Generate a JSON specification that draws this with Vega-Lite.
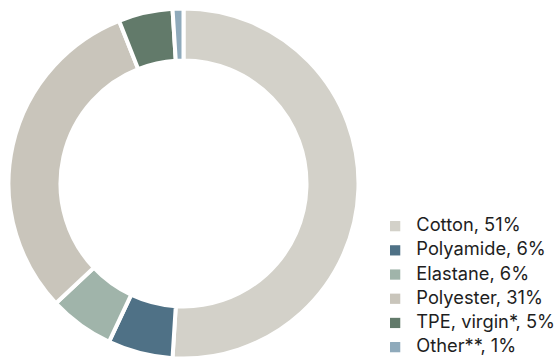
{
  "$schema": "https://vega.github.io/schema/vega-lite/v6.json",
  "width": 367,
  "height": 367,
  "autosize": "none",
  "padding": {"left": 0, "top": 0, "right": 191, "bottom": 0},
  "background": "#ffffff",
  "view": {"stroke": null},
  "data": {
    "values": [
      {"material": "Cotton, 51%", "share": 51, "rank": 1},
      {"material": "Polyamide, 6%", "share": 6, "rank": 2},
      {"material": "Elastane, 6%", "share": 6, "rank": 3},
      {"material": "Polyester, 31%", "share": 31, "rank": 4},
      {"material": "TPE, virgin*, 5%", "share": 5, "rank": 5},
      {"material": "Other**, 1%", "share": 1, "rank": 6}
    ]
  },
  "mark": {"type": "arc", "outerRadius": 175, "innerRadius": 123, "stroke": "#ffffff", "strokeWidth": 4},
  "encoding": {
    "theta": {"field": "share", "type": "quantitative", "stack": true},
    "color": {
      "field": "material",
      "type": "nominal",
      "sort": null,
      "scale": {
        "domain": ["Cotton, 51%", "Polyamide, 6%", "Elastane, 6%", "Polyester, 31%", "TPE, virgin*, 5%", "Other**, 1%"],
        "range": ["#d3d1c9", "#4f7186", "#a0b4aa", "#c9c5bb", "#627a6a", "#8faabb"]
      },
      "legend": {
        "title": null,
        "orient": "none",
        "legendX": 386,
        "legendY": 217,
        "symbolType": "square",
        "symbolSize": 105,
        "symbolStrokeWidth": 0,
        "labelFont": "Inter",
        "labelFontSize": 18.3,
        "labelColor": "#1e1e1e",
        "labelOffset": 12,
        "rowPadding": 5.2
      }
    },
    "order": {"field": "rank", "type": "quantitative", "sort": "ascending"}
  }
}
